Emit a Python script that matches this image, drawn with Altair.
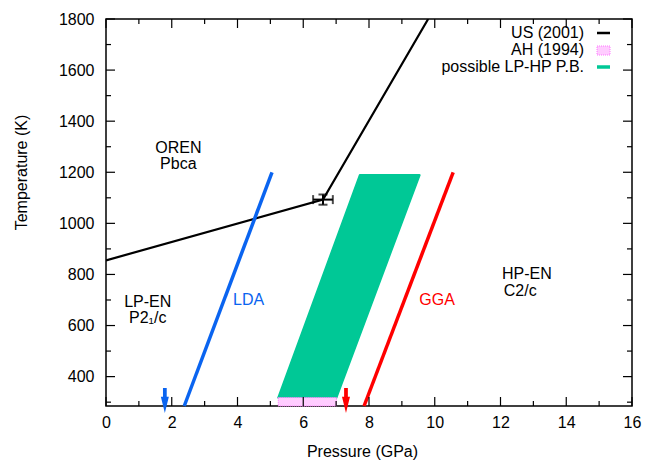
import altair as alt
import pandas as pd

# ---------------- data ----------------
us_p = [0.0, 6.6, 9.8]
us_t = [855, 1093, 1800]
err_p, err_t, err_dp, err_dt = 6.6, 1093, 0.3, 20
lda_p = [2.38, 5.05]
lda_t = [285, 1200]
gga_p = [7.85, 10.56]
gga_t = [285, 1200]
pb_t = [318, 1189]
pb_left = [5.24, 7.72]
pb_right = [7.01, 9.54]
ah_p = [5.24, 7.01]
ah_t = [285, 318]
arrow_p = [1.79, 7.3]
arrow_t = [307, 307]
arrow_col = ["#0a64f0", "#ff0000"]
lab_text = ["OREN\nPbca", "LP-EN\nP2\u2081/c", "LDA", "GGA", "HP-EN", "C2/c"]
lab_p = [2.2, 1.27, 4.34, 10.07, 12.8, 12.6]
lab_t = [1294, 694, 699, 699, 803, 735]
lab_col = ["black", "black", "#0a64f0", "#ff0000", "black", "black"]
x_major = [0, 2, 4, 6, 8, 10, 12, 14, 16]
x_minor = [1, 3, 5, 7, 9, 11, 13, 15]
y_major = [400, 600, 800, 1000, 1200, 1400, 1600, 1800]
y_minor = [300, 500, 700, 900, 1100, 1300, 1500, 1700]

FONT = "Liberation Sans"
GREEN = "#00c896"
BLUE = "#0a64f0"
RED = "#ff0000"
W, H = 526, 387

xs = alt.Scale(domain=[0, 16], nice=False, zero=False)
ys = alt.Scale(domain=[285, 1800], nice=False, zero=False)
xaxis = alt.Axis(values=x_major, ticks=False, domain=False, grid=False, labelPadding=8,
                 labelFontSize=16, labelFont=FONT, labelColor="black", title="Pressure (GPa)",
                 titleFontSize=16, titleFont=FONT, titleFontWeight="normal", titleColor="black",
                 titlePadding=13, titleX=256, labelFlush=False, format="d")
yaxis = alt.Axis(values=y_major, ticks=False, domain=False, grid=False, labelPadding=12,
                 labelFontSize=16, labelFont=FONT, labelColor="black", title="Temperature (K)",
                 titleFontSize=16, titleFont=FONT, titleFontWeight="normal", titleColor="black",
                 titlePadding=29, titleY=153, labelFlush=False, format="d")


def X(f):
    return alt.X(f, type="quantitative", scale=xs, axis=xaxis)


def Y(f):
    return alt.Y(f, type="quantitative", scale=ys, axis=yaxis)


us_df = pd.DataFrame({"p": us_p, "t": us_t, "o": range(len(us_p))})
us_line = alt.Chart(us_df).mark_line(color="black", strokeWidth=2.2, clip=True).encode(
    x=X("p"), y=Y("t"), order="o:Q")

hbar = pd.DataFrame({"p": [err_p - err_dp], "p2": [err_p + err_dp], "t": [err_t]})
vbar = pd.DataFrame({"p": [err_p], "t": [err_t - err_dt], "t2": [err_t + err_dt]})
err_h = alt.Chart(hbar).mark_rule(color="black", strokeWidth=2).encode(x=X("p"), x2="p2", y=Y("t"))
err_v = alt.Chart(vbar).mark_rule(color="black", strokeWidth=2).encode(x=X("p"), y=Y("t"), y2="t2")
capx = pd.DataFrame({"p": [err_p - err_dp, err_p + err_dp], "t": [err_t, err_t]})
capy = pd.DataFrame({"p": [err_p, err_p], "t": [err_t - err_dt, err_t + err_dt]})
cap_h = alt.Chart(capx).mark_tick(color="black", orient="vertical", size=9, thickness=2).encode(
    x=X("p"), y=Y("t"))
cap_v = alt.Chart(capy).mark_tick(color="black", orient="horizontal", size=9, thickness=2).encode(
    x=X("p"), y=Y("t"))

lda = alt.Chart(pd.DataFrame({"p": lda_p, "t": lda_t})).mark_line(color=BLUE, strokeWidth=3.5).encode(
    x=X("p"), y=Y("t"))
gga = alt.Chart(pd.DataFrame({"p": gga_p, "t": gga_t})).mark_line(color=RED, strokeWidth=3.5).encode(
    x=X("p"), y=Y("t"))

pb = alt.Chart(pd.DataFrame({"t": pb_t, "l": pb_left, "r": pb_right})).mark_area(
    orient="horizontal", color=GREEN, stroke=GREEN, strokeWidth=2, strokeJoin="round").encode(
    y=Y("t"), x=X("l"), x2="r")

ah = alt.Chart(pd.DataFrame({"p": [ah_p[0]], "p2": [ah_p[1]], "t": [ah_t[0]], "t2": [ah_t[1]]})).mark_rect(
    fill="#ffccff", stroke="#ff77ff", strokeDash=[1, 1], strokeWidth=1).encode(
    x=X("p"), x2="p2", y=Y("t"), y2="t2")

arrow_shape = "M-0.15,-1 L0.15,-1 L0.15,-0.3 L0.32,-0.3 L0,1 L-0.32,-0.3 L-0.15,-0.3 Z"
arrows = alt.Chart(pd.DataFrame({"p": arrow_p, "t": arrow_t, "c": arrow_col})).mark_point(
    shape=arrow_shape, filled=True, size=625, opacity=1, strokeWidth=0).encode(
    x=X("p"), y=Y("t"), color=alt.Color("c:N", scale=None))

labels = alt.Chart(pd.DataFrame({"p": lab_p, "t": lab_t, "s": lab_text, "c": lab_col})).mark_text(
    font=FONT, fontSize=16, baseline="middle", align="center", lineBreak="\n", lineHeight=16).encode(
    x=X("p"), y=Y("t"), text="s:N", color=alt.Color("c:N", scale=None))

# inward ticks (gnuplot style, mirrored)
def xticks(vals, length):
    d = pd.DataFrame({"p": vals})
    b = alt.Chart(d).mark_rule(color="black", strokeWidth=1.2).encode(
        x=X("p"), y=alt.value(H), y2=alt.value(H - length))
    t = alt.Chart(d).mark_rule(color="black", strokeWidth=1.2).encode(
        x=X("p"), y=alt.value(0), y2=alt.value(length))
    return [b, t]


def yticks(vals, length):
    d = pd.DataFrame({"t": vals})
    l = alt.Chart(d).mark_rule(color="black", strokeWidth=1.2).encode(
        y=Y("t"), x=alt.value(0), x2=alt.value(length))
    r = alt.Chart(d).mark_rule(color="black", strokeWidth=1.2).encode(
        y=Y("t"), x=alt.value(W), x2=alt.value(W - length))
    return [l, r]


ticks = xticks(x_major, 9) + xticks(x_minor, 5) + yticks(y_major, 9) + yticks(y_minor, 5)

# key (gnuplot-style, text then sample)
one = pd.DataFrame({"a": [0]})
leg_txt = []
for i, s in enumerate(["US (2001)", "AH (1994)", "possible LP-HP P.B."]):
    leg_txt.append(alt.Chart(one).mark_text(text=s, font=FONT, fontSize=16, align="right",
                                            baseline="middle", color="black").encode(
        x=alt.value(478), y=alt.value(14 + 17 * i)))
leg_us = alt.Chart(one).mark_rule(color="black", strokeWidth=2.5).encode(
    x=alt.value(491), x2=alt.value(504), y=alt.value(14))
leg_ah = alt.Chart(one).mark_rect(fill="#ffccff", stroke="#ff77ff", strokeDash=[1, 1]).encode(
    x=alt.value(491), x2=alt.value(504), y=alt.value(27), y2=alt.value(36))
leg_pb = alt.Chart(one).mark_rule(color=GREEN, strokeWidth=3.5).encode(
    x=alt.value(491), x2=alt.value(504), y=alt.value(48))

chart = alt.layer(
    pb, ah, us_line, err_h, err_v, cap_h, cap_v, lda, gga, arrows, labels,
    *ticks, *leg_txt, leg_us, leg_ah, leg_pb
).properties(
    width=W, height=H, autosize="none",
    padding={"left": 106, "top": 19, "right": 13, "bottom": 56},
    background="white",
).configure_view(stroke="black", strokeWidth=1.5)

chart.save("out.html", embed_options={"renderer": "svg", "actions": False})
